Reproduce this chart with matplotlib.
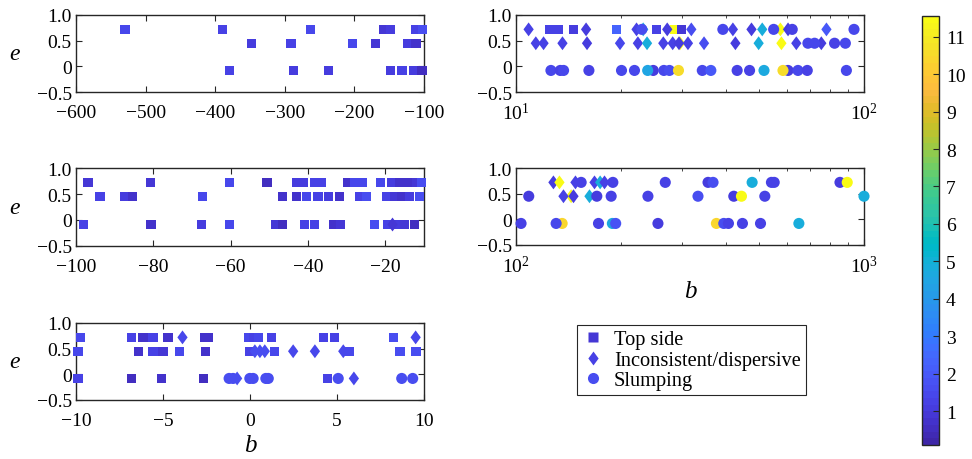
import numpy as np
import matplotlib
matplotlib.use("Agg")
import matplotlib.pyplot as plt
from matplotlib.colors import ListedColormap, Normalize
from matplotlib.lines import Line2D
from matplotlib.ticker import LogLocator, LogFormatterMathtext, NullFormatter

plt.rcParams['font.family'] = ['Liberation Serif', 'DejaVu Serif']
plt.rcParams['mathtext.fontset'] = 'stix'

# MATLAB parula (64 steps)
PARULA = [
    [0.2422, 0.1504, 0.6603], [0.2504, 0.1650, 0.7076], [0.2578, 0.1818, 0.7511], [0.2647, 0.1978, 0.7952],
    [0.2706, 0.2147, 0.8364], [0.2751, 0.2342, 0.8710], [0.2783, 0.2559, 0.8991], [0.2803, 0.2782, 0.9221],
    [0.2813, 0.3006, 0.9414], [0.2810, 0.3228, 0.9579], [0.2795, 0.3447, 0.9717], [0.2760, 0.3667, 0.9829],
    [0.2699, 0.3892, 0.9906], [0.2602, 0.4123, 0.9952], [0.2440, 0.4358, 0.9988], [0.2206, 0.4603, 0.9973],
    [0.1963, 0.4847, 0.9892], [0.1834, 0.5074, 0.9798], [0.1786, 0.5289, 0.9682], [0.1764, 0.5499, 0.9520],
    [0.1687, 0.5703, 0.9359], [0.1540, 0.5902, 0.9218], [0.1460, 0.6091, 0.9079], [0.1380, 0.6276, 0.8973],
    [0.1248, 0.6459, 0.8883], [0.1113, 0.6635, 0.8763], [0.0952, 0.6798, 0.8598], [0.0689, 0.6948, 0.8394],
    [0.0297, 0.7082, 0.8163], [0.0036, 0.7203, 0.7917], [0.0067, 0.7312, 0.7660], [0.0433, 0.7411, 0.7394],
    [0.0964, 0.7500, 0.7120], [0.1408, 0.7584, 0.6842], [0.1717, 0.7670, 0.6554], [0.1938, 0.7758, 0.6251],
    [0.2161, 0.7843, 0.5923], [0.2470, 0.7918, 0.5567], [0.2906, 0.7973, 0.5188], [0.3406, 0.8008, 0.4789],
    [0.3909, 0.8029, 0.4354], [0.4456, 0.8024, 0.3909], [0.5044, 0.7993, 0.3480], [0.5616, 0.7942, 0.3045],
    [0.6174, 0.7876, 0.2612], [0.6720, 0.7793, 0.2227], [0.7242, 0.7698, 0.1910], [0.7738, 0.7598, 0.1646],
    [0.8203, 0.7498, 0.1535], [0.8634, 0.7406, 0.1596], [0.9035, 0.7330, 0.1774], [0.9393, 0.7288, 0.2100],
    [0.9728, 0.7298, 0.2394], [0.9956, 0.7434, 0.2371], [0.9970, 0.7659, 0.2199], [0.9952, 0.7893, 0.2028],
    [0.9892, 0.8136, 0.1885], [0.9786, 0.8386, 0.1766], [0.9676, 0.8639, 0.1643], [0.9610, 0.8890, 0.1537],
    [0.9597, 0.9135, 0.1423], [0.9628, 0.9373, 0.1265], [0.9691, 0.9606, 0.1064], [0.9769, 0.9839, 0.0805],
]
cmap = ListedColormap(PARULA)
norm = Normalize(vmin=0.1, vmax=11.55)

# ---- data: b, e, colour value, kind (s = top side, d = inconsistent, o = slumping)
p1_b = [-529.5, -390, -263.5, -158.5, -148, -111.5, -102,
        -348, -291, -203, -170, -124, -111.5,
        -379, -288, -237.6, -148.4, -131.6, -115, -103]
p1_e = [0.72, 0.72, 0.72, 0.72, 0.72, 0.72, 0.72,
        0.45, 0.45, 0.45, 0.45, 0.45, 0.45,
        -0.08, -0.08, -0.08, -0.08, -0.08, -0.08, -0.08]
p1_c = [1.4, 1.2, 1.5, 0.9, 1.1, 1.3, 1.6,
        1.1, 1.2, 1.4, 0.9, 1.0, 0.8,
        1.2, 1.0, 1.1, 1.0, 1.2, 1.0, 0.6]
p1_k = ['s'] * 20

p2_b = [-96.9, -80.8, -60.4, -50.6, -43, -41.1, -38.3, -36.6, -29.8, -27.9, -26, -21.2, -18.4, -16.3, -14.1, -12, -10.7,
        -93.8, -87.5, -85.3, -67.2, -46.5, -43, -40.4, -37.4, -34.6, -31.8, -26.6, -24.9, -19.7, -17.6, -15.9, -13.7, -11.1,
        -98, -80.6, -67.5, -60.3, -48.5, -46.5, -40.9, -38.3, -33.3, -31.6, -22.8, -19.3, -16.7, -15, -12.4, -18.4]
p2_e = [0.72, 0.72, 0.72, 0.72, 0.72, 0.72, 0.72, 0.72, 0.72, 0.72, 0.72, 0.72, 0.72, 0.72, 0.72, 0.72, 0.72,
        0.45, 0.45, 0.45, 0.45, 0.45, 0.45, 0.45, 0.45, 0.45, 0.45, 0.45, 0.45, 0.45, 0.45, 0.45, 0.45, 0.45,
        -0.08, -0.08, -0.08, -0.08, -0.08, -0.08, -0.08, -0.08, -0.08, -0.08, -0.08, -0.08, -0.08, -0.08, -0.08, -0.08]
p2_c = [0.9, 0.9, 1.4, 0.6, 1.0, 1.1, 1.3, 1.2, 0.7, 1.4, 1.5, 1.5, 1.0, 0.7, 0.8, 0.9, 1.6,
        1.3, 1.1, 0.7, 1.4, 0.8, 0.7, 1.4, 1.2, 1.1, 0.7, 1.3, 1.6, 1.3, 0.9, 0.7, 1.0, 1.6,
        1.3, 0.8, 1.0, 1.5, 0.9, 0.6, 1.2, 1.3, 0.7, 0.9, 1.6, 1.2, 1.0, 0.9, 0.6, 0.9]
p2_k = ['s'] * 49 + ['d']

p3_b = [-9.73, -6.82, -6.15, -5.57, -4.71, -2.6, -2.4, -0.1, 0.18, 0.47, 1.24, 4.21, 4.84, 8.24,
        -9.88, -6.43, -5.57, -5.0, -4.04, -2.54, -0.01, 1.43, 5.74, 8.62, 9.54,
        -9.88, -6.82, -5.09, -2.69, 4.44,
        -3.88, 9.52, 0.28, 0.57, 0.85, 2.48, 3.73, 5.36, -0.74, 5.97,
        -1.2, -0.97, -0.01, 0.18, 0.91, 1.05, 5.07, 8.72, 9.35]
p3_e = [0.72, 0.72, 0.72, 0.72, 0.72, 0.72, 0.72, 0.72, 0.72, 0.72, 0.72, 0.72, 0.72, 0.72,
        0.45, 0.45, 0.45, 0.45, 0.45, 0.45, 0.45, 0.45, 0.45, 0.45, 0.45,
        -0.08, -0.08, -0.08, -0.08, -0.08,
        0.72, 0.72, 0.45, 0.45, 0.45, 0.45, 0.45, 0.45, -0.08, -0.08,
        -0.08, -0.08, -0.08, -0.08, -0.08, -0.08, -0.08, -0.08, -0.08]
p3_c = [1.5, 1.3, 0.7, 1.2, 0.8, 0.7, 0.7, 1.4, 1.3, 1.4, 1.2, 1.3, 1.3, 1.7,
        1.4, 0.7, 1.3, 0.9, 1.4, 0.7, 1.3, 1.4, 1.5, 1.7, 1.6,
        1.3, 0.6, 0.7, 0.6, 1.2,
        1.5, 1.5, 1.6, 1.6, 1.6, 1.5, 1.5, 1.5, 1.6, 1.5,
        1.6, 1.7, 1.7, 1.6, 1.6, 1.7, 1.6, 1.6, 1.7]
p3_k = ['s'] * 30 + ['d'] * 10 + ['o'] * 9

p4_b = [12.5, 13.2, 14.6, 19.4, 25.3, 28.6, 29.9,
        23.2, 10.87, 15.9, 22.2, 27.2, 31.9, 42.0, 47.5, 51.0, 57.5, 60.5, 78.0,
        11.4, 12.0, 13.6, 16.0, 19.9, 22.4, 23.8, 26.5, 29.6, 28.2, 29.4, 31.2, 34.7, 42.7, 49.8, 57.9, 63.9, 75.4,
        23.0, 39.3, 55.0, 62.2, 93.6,
        69.0, 72.1, 82.3, 88.4,
        12.6, 13.4, 13.7, 16.2, 20.1, 21.9, 24.8, 23.9, 26.6, 27.6, 29.3, 34.3, 36.3, 43.2, 46.9, 51.6,
        60.5, 58.5, 64.6, 68.7, 89.0]
p4_e = [0.72, 0.72, 0.72, 0.72, 0.72, 0.72, 0.72,
        0.72, 0.72, 0.72, 0.72, 0.72, 0.72, 0.72, 0.72, 0.72, 0.72, 0.72, 0.72,
        0.45, 0.45, 0.45, 0.45, 0.45, 0.45, 0.45, 0.45, 0.45, 0.45, 0.45, 0.45, 0.45, 0.45, 0.45, 0.45, 0.45, 0.45,
        0.72, 0.72, 0.72, 0.72, 0.72,
        0.45, 0.45, 0.45, 0.45,
        -0.08, -0.08, -0.08, -0.08, -0.08, -0.08, -0.08, -0.08, -0.08, -0.08, -0.08, -0.08, -0.08, -0.08, -0.08, -0.08,
        -0.08, -0.08, -0.08, -0.08, -0.08]
p4_c = [1.2, 1.2, 1.1, 2.4, 1.3, 11.5, 0.9,
        4.8, 1.2, 1.1, 1.3, 1.1, 1.6, 1.3, 1.1, 4.8, 11.5, 1.1, 1.9,
        1.2, 1.3, 1.2, 1.1, 1.4, 1.3, 4.8, 1.2, 11.4, 1.2, 1.1, 1.2, 1.7, 1.1, 4.8, 11.5, 1.3, 1.1,
        1.6, 1.5, 1.4, 1.3, 1.5,
        1.5, 1.5, 1.3, 1.5,
        1.4, 1.3, 1.4, 1.2, 1.5, 1.4, 1.1, 4.5, 1.5, 1.6, 10.6, 1.5, 2.0, 1.3, 1.2, 4.6,
        1.0, 10.6, 1.4, 1.3, 1.4]
p4_k = ['s'] * 7 + ['d'] * 30 + ['o'] * 30

p5_b = [128.1, 133.3, 148.2, 168.1, 174.5, 179.6,
        144.0, 136.9, 146.3, 162.6,
        153.9, 189.8, 268.5, 356.3, 368.3, 477, 542, 552, 853, 895,
        108.8, 170.7, 187.7, 239.4, 333.4, 422.5, 444.5, 518.8, 1000,
        103.4, 135.7, 130.4, 172.6, 189.2, 193.4, 255.8, 376.6, 395.4, 407.8, 447.4, 504.2, 649.9]
p5_e = [0.72, 0.72, 0.72, 0.72, 0.72, 0.72,
        0.45, 0.45, 0.45, 0.45,
        0.72, 0.72, 0.72, 0.72, 0.72, 0.72, 0.72, 0.72, 0.72, 0.72,
        0.45, 0.45, 0.45, 0.45, 0.45, 0.45, 0.45, 0.45, 0.45,
        -0.08, -0.08, -0.08, -0.08, -0.08, -0.08, -0.08, -0.08, -0.08, -0.08, -0.08, -0.08, -0.08]
p5_c = [1.1, 11.5, 1.2, 1.2, 4.8, 1.3,
        11.4, 1.2, 1.1, 4.8,
        1.3, 1.2, 1.2, 1.1, 1.6, 4.8, 1.2, 1.2, 1.1, 11.5,
        1.1, 1.0, 1.2, 1.2, 1.7, 1.1, 11.5, 1.2, 4.8,
        1.3, 10.4, 1.4, 1.3, 4.6, 1.8, 1.1, 10.4, 1.6, 1.3, 1.2, 1.2, 4.8]
p5_k = ['d'] * 10 + ['o'] * 32

# marker shapes and sizes (points^2)
DIAMOND = [(0, 1), (0.74, 0), (0, -1), (-0.74, 0), (0, 1)]
MARKERS = {'s': ('s', 44), 'd': (DIAMOND, 100), 'o': ('o', 64)}
TICK_FS = 14

W, H = 972, 460
fig = plt.figure(figsize=(W / 100, H / 100), dpi=100)


def px_axes(x0, y0, x1, y1):
    return fig.add_axes([x0 / W, 1 - y1 / H, (x1 - x0) / W, (y1 - y0) / H])


def draw(ax, b, e, c, k):
    b = np.array(b)
    e = np.array(e)
    c = np.array(c)
    k = np.array(k)
    for kind in ['s', 'd', 'o']:
        sel = k == kind
        if not sel.any():
            continue
        m, s = MARKERS[kind]
        ax.scatter(b[sel], e[sel], c=c[sel], cmap=cmap, norm=norm, marker=m, s=s,
                   linewidths=0, clip_on=False, zorder=3)


def style(ax, ylabel=True):
    ax.set_ylim(-0.5, 1.0)
    ax.set_yticks([-0.5, 0, 0.5, 1.0])
    ax.set_yticklabels(['\u22120.5', '0', '0.5', '1.0'])
    ax.tick_params(which='both', direction='in', top=True, right=True, labelsize=TICK_FS,
                   color='#262626')
    ax.tick_params(axis='y', pad=3)
    ax.tick_params(axis='x', pad=9)
    ax.tick_params(which='major', length=4)
    ax.tick_params(which='minor', length=2.5)
    for sp in ax.spines.values():
        sp.set_linewidth(1.0)
        sp.set_color('#262626')
    if ylabel:
        ax.set_ylabel('e', fontsize=17, style='italic', rotation=0, labelpad=16, va='center')


ax1 = px_axes(76, 16, 424, 93)
draw(ax1, p1_b, p1_e, p1_c, p1_k)
ax1.set_xlim(-600, -100)
ax1.set_xticks([-600, -500, -400, -300, -200, -100])
style(ax1)

ax2 = px_axes(76, 169, 424, 247)
draw(ax2, p2_b, p2_e, p2_c, p2_k)
ax2.set_xlim(-100, -10)
ax2.set_xticks([-100, -80, -60, -40, -20])
style(ax2)

ax3 = px_axes(76, 324, 424, 401)
draw(ax3, p3_b, p3_e, p3_c, p3_k)
ax3.set_xlim(-10, 10)
ax3.set_xticks([-10, -5, 0, 5, 10])
style(ax3)
ax3.set_xlabel('b', fontsize=18, style='italic', labelpad=3)

ax4 = px_axes(516, 16, 864, 93)
draw(ax4, p4_b, p4_e, p4_c, p4_k)
ax4.set_xscale('log')
ax4.set_xlim(10, 100)
ax5 = px_axes(516, 169, 864, 246)
draw(ax5, p5_b, p5_e, p5_c, p5_k)
ax5.set_xscale('log')
ax5.set_xlim(100, 1000)
for ax in (ax4, ax5):
    ax.xaxis.set_major_locator(LogLocator(base=10))
    ax.xaxis.set_major_formatter(LogFormatterMathtext())
    ax.xaxis.set_minor_locator(LogLocator(base=10, subs=np.arange(2, 10)))
    ax.xaxis.set_minor_formatter(NullFormatter())
    style(ax, ylabel=False)
    ax.tick_params(axis='x', pad=7)
ax5.set_xlabel('b', fontsize=18, style='italic', labelpad=3)

# legend
handles = [
    Line2D([], [], ls='none', marker='s', ms=6.6, mec='none', mfc=cmap(norm(0.9))),
    Line2D([], [], ls='none', marker=DIAMOND, ms=10, mec='none', mfc=cmap(norm(1.3))),
    Line2D([], [], ls='none', marker='o', ms=8, mec='none', mfc=cmap(norm(1.7))),
]
leg = fig.legend(handles, ['Top side', 'Inconsistent/dispersive', 'Slumping'],
                 loc='upper left', bbox_to_anchor=(577 / W, 1 - 326 / H), fontsize=14.7,
                 frameon=True, fancybox=False, edgecolor='#262626', framealpha=1,
                 handlelength=1.1, handletextpad=0.45, labelspacing=0.05, borderpad=0.25,
                 borderaxespad=0)
leg.get_frame().set_linewidth(0.8)

# colorbar
cax = px_axes(922, 17, 939, 446)
sm = plt.cm.ScalarMappable(norm=norm, cmap=cmap)
cb = fig.colorbar(sm, cax=cax)
cb.set_ticks(range(1, 12))
cb.ax.tick_params(direction='in', length=4, labelsize=TICK_FS, color='#262626', pad=5)
cb.outline.set_linewidth(1.0)
cb.outline.set_edgecolor('#262626')

fig.savefig('out.png', dpi=100)
